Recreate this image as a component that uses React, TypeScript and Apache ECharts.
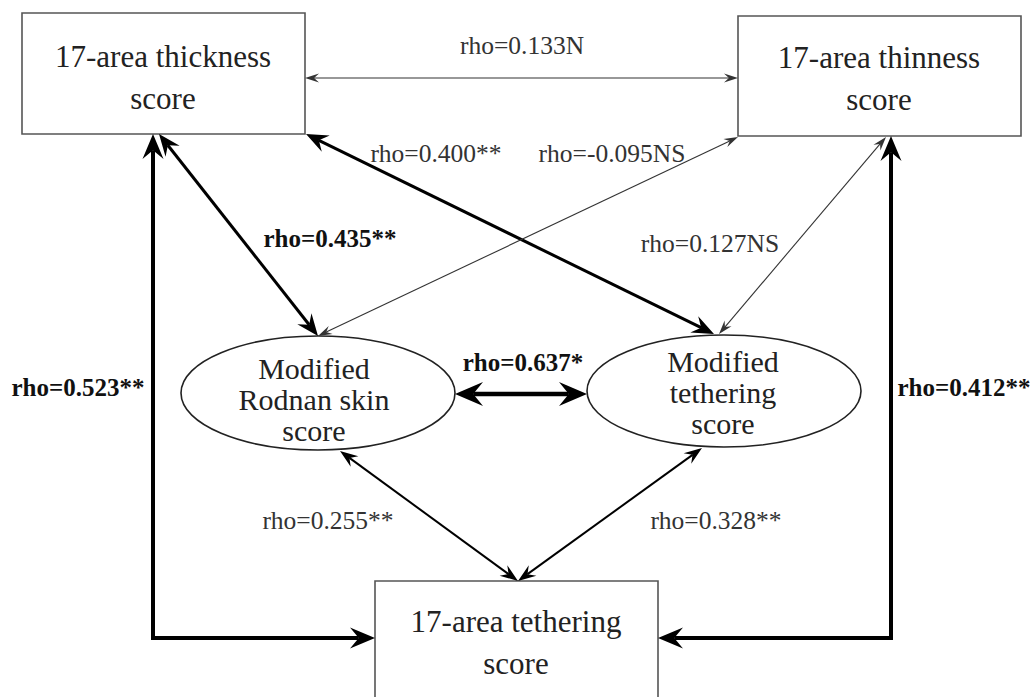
import React, { useEffect, useRef } from "react";
import * as echarts from "echarts";

// ---- data ----
const nodeNames = [
  "17-area thickness\nscore",
  "17-area thinness\nscore",
  "Modified\nRodnan skin\nscore",
  "Modified\ntethering\nscore",
  "17-area tethering\nscore",
];
const nodeShapes = ["rect", "rect", "ellipse", "ellipse", "rect"];
// edges: [from, to]
const edgePairs: [number, number][] = [
  [0, 1],
  [0, 3],
  [1, 2],
  [0, 2],
  [1, 3],
  [2, 3],
  [0, 4],
  [1, 4],
  [2, 4],
  [3, 4],
];
const rhoValues = [0.133, 0.4, -0.095, 0.435, 0.127, 0.637, 0.523, 0.412, 0.255, 0.328];
const significance = ["N", "**", "NS", "**", "NS", "*", "**", "**", "**", "**"];

// ---- layout (positions / styles) ----
const nodeBoxes = [
  { x: 22, y: 13, w: 283, h: 121, tx: 163, ty: 77 },
  { x: 738, y: 16, w: 283, h: 120, tx: 879, ty: 78 },
  { cx: 318, cy: 393, rx: 137, ry: 57, tx: 314, ty: 399 },
  { cx: 724, cy: 391, rx: 137, ry: 56, tx: 723, ty: 392 },
  { x: 375, y: 581, w: 283, h: 130, tx: 516, ty: 642 },
];
// edge geometry: polyline points from "from" end to "to" end
const edgeGeom: number[][][] = [
  [[305, 78], [738, 78]],
  [[306, 134], [714, 334]],
  [[738, 137], [318, 336]],
  [[159, 134], [318, 336]],
  [[886, 137], [719, 334]],
  [[455, 394], [587, 394]],
  [[153, 134], [153, 638], [375, 638]],
  [[891, 136], [891, 638], [658, 638]],
  [[340, 451], [518, 581]],
  [[702, 448], [518, 581]],
];
const edgeWidth = [1.1, 3, 1.1, 3, 1.1, 4.5, 4, 4, 2, 2];
const edgeBold = [false, false, false, true, false, true, true, true, false, false];
const labelPos = [
  [522, 45],
  [436, 153],
  [612, 153],
  [330, 238],
  [710, 243],
  [523, 362],
  [78, 387],
  [964, 387],
  [328, 520],
  [716, 520],
];

const FONT = "'Liberation Serif', 'Times New Roman', serif";

function arrowHead(tip: number[], from: number[], w: number) {
  const dx = tip[0] - from[0];
  const dy = tip[1] - from[1];
  const len = Math.sqrt(dx * dx + dy * dy);
  const ux = dx / len;
  const uy = dy / len;
  const vx = -uy;
  const vy = ux;
  const L = w < 1.5 ? 14 : w < 2.5 ? 18 : w < 3.5 ? 22 : w < 4.3 ? 25 : 28;
  const W = w < 1.5 ? 4.5 : w < 2.5 ? 6.5 : w < 3.5 ? 9 : w < 4.3 ? 10.5 : 12;
  const n = L * 0.35;
  const pts = [
    [tip[0], tip[1]],
    [tip[0] - L * ux + W * vx, tip[1] - L * uy + W * vy],
    [tip[0] - (L - n) * ux, tip[1] - (L - n) * uy],
    [tip[0] - L * ux - W * vx, tip[1] - L * uy - W * vy],
  ];
  const back = [tip[0] - (L - n) * ux, tip[1] - (L - n) * uy];
  return { pts, back };
}

export default function App() {
  const ref = useRef<HTMLDivElement>(null);
  useEffect(() => {
    if (!ref.current) return;
    const chart = echarts.init(ref.current, null, { renderer: "svg" });
    const elements: any[] = [];

    // nodes
    nodeNames.forEach((name, i) => {
      const b: any = nodeBoxes[i];
      if (nodeShapes[i] === "rect") {
        elements.push({
          type: "rect",
          shape: { x: b.x, y: b.y, width: b.w, height: b.h },
          style: { fill: "#fff", stroke: "#555", lineWidth: 1.6 },
          z: 1,
        });
        elements.push({
          type: "text",
          x: b.tx,
          y: b.ty,
          style: {
            text: name,
            fontFamily: FONT,
            fontSize: 31,
            lineHeight: 42,
            fill: "#222",
            align: "center",
            verticalAlign: "middle",
          },
          z: 3,
        });
      } else {
        elements.push({
          type: "ellipse",
          shape: { cx: b.cx, cy: b.cy, rx: b.rx, ry: b.ry },
          style: { fill: "#fff", stroke: "#222", lineWidth: 1.6 },
          z: 1,
        });
        elements.push({
          type: "text",
          x: b.tx,
          y: b.ty,
          style: {
            text: name,
            fontFamily: FONT,
            fontSize: 30,
            lineHeight: 31,
            fill: "#222",
            align: "center",
            verticalAlign: "middle",
          },
          z: 3,
        });
      }
    });

    // edges
    edgePairs.forEach((pair, i) => {
      const g = edgeGeom[i].map((p) => p.slice());
      const w = edgeWidth[i];
      const color = w < 1.5 ? "#333" : "#000";
      const start = arrowHead(g[0], g[1], w);
      const end = arrowHead(g[g.length - 1], g[g.length - 2], w);
      const pts = g.slice();
      pts[0] = start.back;
      pts[pts.length - 1] = end.back;
      elements.push({
        type: "polyline",
        shape: { points: pts },
        style: { stroke: color, lineWidth: w, fill: null, lineJoin: "miter" },
        z: 2,
      });
      elements.push({
        type: "polygon",
        shape: { points: start.pts },
        style: { fill: color, stroke: null },
        z: 4,
      });
      elements.push({
        type: "polygon",
        shape: { points: end.pts },
        style: { fill: color, stroke: null },
        z: 4,
      });
      const rho = rhoValues[i];
      const label = `rho=${rho.toFixed(3)}${significance[i]}`;
      elements.push({
        type: "text",
        x: labelPos[i][0],
        y: labelPos[i][1],
        style: {
          text: label,
          fontFamily: FONT,
          fontSize: edgeBold[i] ? 25 : 25.5,
          fontWeight: edgeBold[i] ? "bold" : "normal",
          fill: edgeBold[i] ? "#111" : "#333",
          align: "center",
          verticalAlign: "middle",
        },
        z: 5,
      });
    });

    chart.setOption({
      animation: false,
      backgroundColor: "#fff",
      graphic: { elements },
    });
    return () => chart.dispose();
  }, []);
  return (
    <div
      ref={ref}
      style={{ position: "fixed", left: 0, top: 0, width: 1035, height: 697 }}
    />
  );
}
